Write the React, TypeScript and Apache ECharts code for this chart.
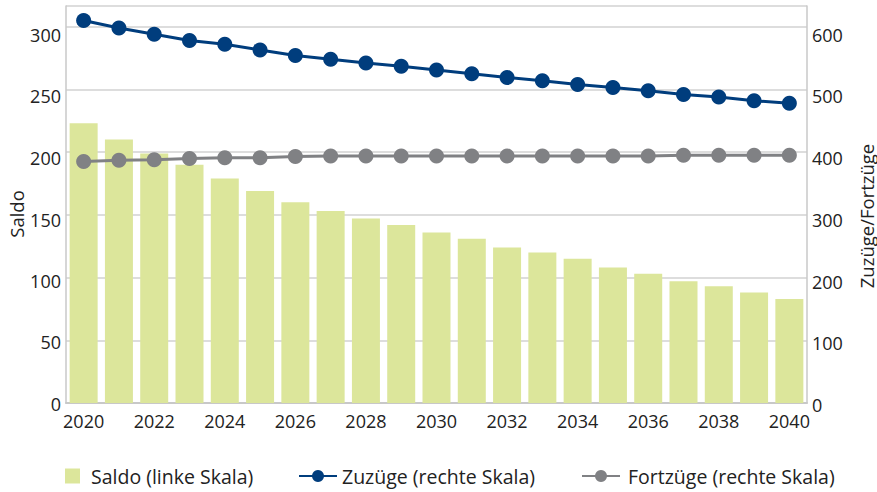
import React, { useEffect, useRef } from "react";
import * as echarts from "echarts";

const years = ["2020","2021","2022","2023","2024","2025","2026","2027","2028","2029","2030","2031","2032","2033","2034","2035","2036","2037","2038","2039","2040"];
const saldo = [223, 210, 199, 190, 179, 169, 160, 153, 147, 142, 136, 131, 124, 120, 115, 108, 103, 97, 93, 88, 83];
const zuzuege = [610, 598, 588, 578, 572, 563, 554, 548, 542, 537, 531, 525, 519, 514, 508, 503, 498, 492, 488, 482, 478];
const fortzuege = [385, 387, 388, 390, 391, 391, 393, 394, 394, 394, 394, 394, 394, 394, 394, 394, 394, 395, 395, 395, 395];

const seriesNames = ["Saldo (linke Skala)", "Zuzüge (rechte Skala)", "Fortzüge (rechte Skala)"];
const leftAxisName = "Saldo";
const rightAxisName = "Zuzüge/Fortzüge";

const FONT = "'Open Sans', 'Noto Sans', sans-serif";
const TEXT = "#222222";
const GREEN = "#dce69b";
const NAVY = "#003d7d";
const GRAY = "#808184";
const GRID = "#d2d2d2";
const AXIS = "#c8c8c8";

// rich styles that nudge tick labels slightly downward (the reference labels sit a bit below their grid lines)
const rich: Record<string, any> = {};
for (let i = 0; i <= 10; i++) {
  rich["o" + i] = { fontSize: 18, fontFamily: FONT, color: TEXT, padding: [2 * i, 0, 0, 0] };
}
const leftFmt = (v: number) => `{o${Math.round(1 + (7 * v) / 300)}|${v}}`;
const rightFmt = (v: number) => `{o${Math.round(2 + (6 * v) / 600)}|${v}}`;

export default function App() {
  const ref = useRef<HTMLDivElement>(null);
  useEffect(() => {
    document.body.style.margin = "0";
    if (!ref.current) return;
    const chart = echarts.init(ref.current, null, { renderer: "svg" });
    const legendText = { fontFamily: FONT, fontSize: 19.5, color: TEXT };
    const legendBase = {
      top: 466,
      padding: 0,
      itemHeight: 15,
      selectedMode: false,
    };
    chart.setOption({
      animation: false,
      textStyle: { fontFamily: FONT },
      grid: { left: 66, right: 70, top: 6, bottom: 89, containLabel: false },
      legend: [
        { ...legendBase, left: 65, itemWidth: 15, data: [{ name: seriesNames[0], icon: "rect" }],
          textStyle: { ...legendText, padding: [0, 0, 0, 6] } },
        { ...legendBase, left: 298, itemWidth: 38, data: [seriesNames[1]], textStyle: legendText },
        { ...legendBase, left: 581, itemWidth: 38, data: [seriesNames[2]],
          textStyle: { ...legendText, padding: [0, 0, 0, 3] } },
      ],
      xAxis: {
        type: "category",
        data: years,
        boundaryGap: true,
        axisLine: { show: true, lineStyle: { color: AXIS, width: 2 } },
        axisTick: { show: false },
        axisLabel: { interval: 1, color: TEXT, fontSize: 18, fontFamily: FONT, margin: 9 },
      },
      yAxis: [
        {
          type: "value",
          min: 0,
          max: 316.5,
          interval: 50,
          axisLine: { show: true, lineStyle: { color: AXIS, width: 1.5 } },
          axisTick: { show: false },
          axisLabel: { color: TEXT, fontSize: 18, fontFamily: FONT, margin: 5, showMaxLabel: false, formatter: leftFmt, rich },
          splitLine: { show: true, lineStyle: { color: GRID, width: 1.5 } },
        },
        {
          type: "value",
          min: 0,
          max: 633,
          interval: 100,
          position: "right",
          axisLine: { show: true, lineStyle: { color: AXIS, width: 1.5 } },
          axisTick: { show: false },
          axisLabel: { color: TEXT, fontSize: 18, fontFamily: FONT, margin: 5, showMaxLabel: false, formatter: rightFmt, rich },
          splitLine: { show: false },
        },
      ],
      graphic: [
        {
          type: "text",
          x: 16,
          y: 214,
          rotation: Math.PI / 2,
          style: { text: leftAxisName, fontSize: 18.5, fontFamily: FONT, fill: TEXT, align: "center", verticalAlign: "middle" },
        },
        {
          type: "text",
          x: 866,
          y: 216,
          rotation: Math.PI / 2,
          style: { text: rightAxisName, fontSize: 18.5, fontFamily: FONT, fill: TEXT, align: "center", verticalAlign: "middle" },
        },
      ],
      series: [
        {
          name: seriesNames[0],
          type: "bar",
          data: saldo,
          yAxisIndex: 0,
          barWidth: 28,
          itemStyle: { color: GREEN },
          z: 1,
        },
        {
          name: seriesNames[1],
          type: "line",
          data: zuzuege,
          yAxisIndex: 1,
          symbol: "circle",
          symbolSize: 15,
          lineStyle: { color: NAVY, width: 3 },
          itemStyle: { color: NAVY },
          z: 3,
        },
        {
          name: seriesNames[2],
          type: "line",
          data: fortzuege,
          yAxisIndex: 1,
          symbol: "circle",
          symbolSize: 15,
          lineStyle: { color: GRAY, width: 3 },
          itemStyle: { color: GRAY },
          z: 2,
        },
      ],
    });
    return () => chart.dispose();
  }, []);
  return <div ref={ref} style={{ width: 877, height: 492 }} />;
}
